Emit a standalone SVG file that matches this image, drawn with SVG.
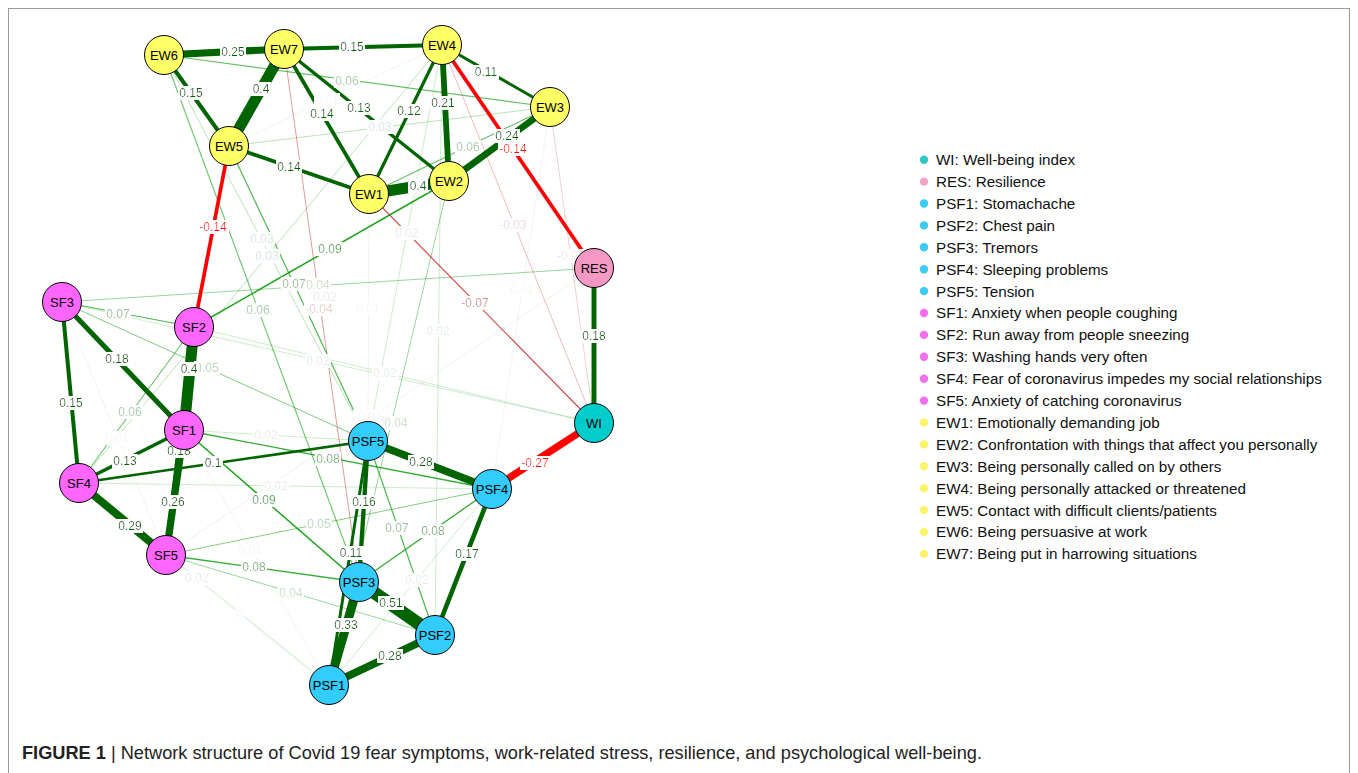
<svg xmlns="http://www.w3.org/2000/svg" width="1358" height="773" viewBox="0 0 1358 773">
<defs>
<filter id="bg" x="-0.04" y="0" width="1.08" height="1"><feFlood flood-color="#ffffff"/><feComposite in="SourceGraphic" operator="over"/></filter>
</defs>
<style>
.n circle{stroke:#000;stroke-width:1}
.n text{font-family:"Liberation Sans",Arial,sans-serif;font-size:13px;text-anchor:middle;fill:#000}
.ew{fill:#ffff66}.sf{fill:#ff66ff}.psf{fill:#33ccff}.wi{fill:#00cccc}.res{fill:#f598c4}
.pg{stroke:#006400}.wg{stroke:#009900}.pr{stroke:#ff0000}.wr{stroke:#bf0000}
#labels text{font-family:"Liberation Sans",Arial,sans-serif;font-size:12px;text-anchor:middle;filter:url(#bg)}
.tg{fill:#006400}.tw{fill:#009900}.tr{fill:#ff0000}.tb{fill:#bf0000}
.leg text{font-family:"Liberation Sans",Arial,sans-serif;font-size:15.2px;fill:#111}
.cap{font-family:"Liberation Sans",Arial,sans-serif;font-size:18.2px;fill:#222}
</style>
<rect x="0" y="0" width="1358" height="773" fill="#ffffff"/>
<rect x="8.5" y="8.5" width="1341" height="800" fill="none" stroke="#9a9a9a" stroke-width="1"/>

<g id="connectors" fill="none">
<line class="wg" stroke-opacity=".08" stroke-width="0.8" x1="166" y1="555" x2="329" y2="685"/>
<line class="wg" stroke-opacity=".1" stroke-width="0.8" x1="229" y1="146" x2="442" y2="45"/>
<line class="wg" stroke-opacity=".1" stroke-width="0.8" x1="62" y1="302" x2="166" y2="555"/>
<line class="wg" stroke-opacity=".1" stroke-width="0.8" x1="184" y1="430" x2="329" y2="685"/>
<line class="wg" stroke-opacity=".1" stroke-width="0.8" x1="550" y1="107" x2="492" y2="489"/>
<line class="wg" stroke-opacity=".1" stroke-width="0.8" x1="369" y1="194" x2="368" y2="441"/>
<line class="wr" stroke-opacity=".1" stroke-width="0.8" x1="166" y1="555" x2="594" y2="268"/>
<line class="wg" stroke-opacity=".22" stroke-width="0.9" x1="184" y1="430" x2="368" y2="441"/>
<line class="wg" stroke-opacity=".22" stroke-width="0.9" x1="79" y1="483" x2="492" y2="489"/>
<line class="wg" stroke-opacity=".22" stroke-width="0.9" x1="79" y1="483" x2="329" y2="685"/>
<line class="wg" stroke-opacity=".22" stroke-width="0.9" x1="62" y1="302" x2="594" y2="423"/>
<line class="wg" stroke-opacity=".22" stroke-width="0.9" x1="194" y1="327" x2="594" y2="423"/>
<line class="wg" stroke-opacity=".22" stroke-width="0.9" x1="442" y1="45" x2="435" y2="635"/>
<line class="wg" stroke-opacity=".22" stroke-width="0.9" x1="442" y1="45" x2="368" y2="441"/>
<line class="wg" stroke-opacity=".22" stroke-width="0.9" x1="492" y1="489" x2="329" y2="685"/>
<line class="wr" stroke-opacity=".22" stroke-width="0.9" x1="550" y1="107" x2="594" y2="423"/>
<line class="wg" stroke-opacity=".3" stroke-width="0.9" x1="229" y1="146" x2="550" y2="107"/>
<line class="wg" stroke-opacity=".3" stroke-width="0.9" x1="164" y1="55" x2="368" y2="441"/>
<line class="wg" stroke-opacity=".3" stroke-width="0.9" x1="442" y1="45" x2="79" y2="483"/>
<line class="wr" stroke-opacity=".3" stroke-width="0.9" x1="442" y1="45" x2="594" y2="423"/>
<line class="wg" stroke-opacity=".4" stroke-width="1" x1="62" y1="302" x2="594" y2="268"/>
<line class="wg" stroke-opacity=".4" stroke-width="1" x1="166" y1="555" x2="435" y2="635"/>
<line class="wg" stroke-opacity=".4" stroke-width="1" x1="449" y1="181" x2="329" y2="685"/>
<line class="wr" stroke-opacity=".4" stroke-width="1" x1="284" y1="49" x2="359" y2="582"/>
<line class="wg" stroke-opacity=".5" stroke-width="1" x1="62" y1="302" x2="368" y2="441"/>
<line class="wg" stroke-opacity=".5" stroke-width="1" x1="166" y1="555" x2="492" y2="489"/>
<line class="wg" stroke-opacity=".6" stroke-width="1.1" x1="164" y1="55" x2="550" y2="107"/>
<line class="wg" stroke-opacity=".6" stroke-width="1.1" x1="369" y1="194" x2="550" y2="107"/>
<line class="wg" stroke-opacity=".6" stroke-width="1.1" x1="79" y1="483" x2="194" y2="327"/>
<line class="wg" stroke-opacity=".6" stroke-width="1.1" x1="164" y1="55" x2="359" y2="582"/>
<line class="wg" stroke-opacity=".7" stroke-width="1.2" x1="62" y1="302" x2="194" y2="327"/>
<line class="wg" stroke-opacity=".7" stroke-width="1.2" x1="229" y1="146" x2="368" y2="441"/>
<line class="wg" stroke-opacity=".7" stroke-width="1.2" x1="368" y1="441" x2="435" y2="635"/>
<line class="wr" stroke-opacity=".7" stroke-width="1.2" x1="369" y1="194" x2="594" y2="423"/>
<line class="wg" stroke-opacity=".8" stroke-width="1.3" x1="184" y1="430" x2="492" y2="489"/>
<line class="wg" stroke-opacity=".8" stroke-width="1.3" x1="166" y1="555" x2="359" y2="582"/>
<line class="wg" stroke-opacity=".8" stroke-width="1.3" x1="492" y1="489" x2="359" y2="582"/>
<line class="wg" stroke-opacity=".9" stroke-width="1.5" x1="194" y1="327" x2="449" y2="181"/>
<line class="wg" stroke-opacity=".9" stroke-width="1.5" x1="184" y1="430" x2="359" y2="582"/>
<line class="pg" stroke-width="2.6" x1="79" y1="483" x2="368" y2="441"/>
<line class="pg" stroke-width="2.9" x1="442" y1="45" x2="550" y2="107"/>
<line class="pg" stroke-width="2.9" x1="368" y1="441" x2="329" y2="685"/>
<line class="pg" stroke-width="3.2" x1="442" y1="45" x2="369" y2="194"/>
<line class="pg" stroke-width="3.5" x1="284" y1="49" x2="449" y2="181"/>
<line class="pg" stroke-width="3.5" x1="184" y1="430" x2="79" y2="483"/>
<line class="pg" stroke-width="3.7" x1="284" y1="49" x2="369" y2="194"/>
<line class="pg" stroke-width="3.7" x1="229" y1="146" x2="369" y2="194"/>
<line class="pr" stroke-width="3.7" x1="442" y1="45" x2="594" y2="268"/>
<line class="pr" stroke-width="3.7" x1="229" y1="146" x2="194" y2="327"/>
<line class="pg" stroke-width="4" x1="284" y1="49" x2="442" y2="45"/>
<line class="pg" stroke-width="4" x1="164" y1="55" x2="229" y2="146"/>
<line class="pg" stroke-width="4" x1="62" y1="302" x2="79" y2="483"/>
<line class="pg" stroke-width="4.3" x1="368" y1="441" x2="359" y2="582"/>
<line class="pg" stroke-width="4.6" x1="492" y1="489" x2="435" y2="635"/>
<line class="pg" stroke-width="4.9" x1="62" y1="302" x2="184" y2="430"/>
<line class="pg" stroke-width="4.9" x1="194" y1="327" x2="166" y2="555"/>
<line class="pg" stroke-width="4.9" x1="594" y1="268" x2="594" y2="423"/>
<line class="pg" stroke-width="5.8" x1="442" y1="45" x2="449" y2="181"/>
<line class="pg" stroke-width="6.6" x1="550" y1="107" x2="449" y2="181"/>
<line class="pg" stroke-width="7.2" x1="164" y1="55" x2="284" y2="49"/>
<line class="pg" stroke-width="7.2" x1="184" y1="430" x2="166" y2="555"/>
<line class="pr" stroke-width="7.4" x1="492" y1="489" x2="594" y2="423"/>
<line class="pg" stroke-width="7.6" x1="368" y1="441" x2="492" y2="489"/>
<line class="pg" stroke-width="7.6" x1="329" y1="685" x2="435" y2="635"/>
<line class="pg" stroke-width="7.9" x1="79" y1="483" x2="166" y2="555"/>
<line class="pg" stroke-width="9" x1="359" y1="582" x2="329" y2="685"/>
<line class="pg" stroke-width="11" x1="284" y1="49" x2="229" y2="146"/>
<line class="pg" stroke-width="11" x1="369" y1="194" x2="449" y2="181"/>
<line class="pg" stroke-width="11" x1="194" y1="327" x2="184" y2="430"/>
<line class="pg" stroke-width="13" x1="359" y1="582" x2="435" y2="635"/>
</g>

<g id="labels">
<text class="tw" fill-opacity=".12" x="240" y="619">0</text>
<text class="tw" fill-opacity=".1" x="327" y="104">0.01</text>
<text class="tw" fill-opacity=".1" x="117" y="442">0.01</text>
<text class="tw" fill-opacity=".1" x="250" y="554">0.01</text>
<text class="tw" fill-opacity=".1" x="522" y="293">0.01</text>
<text class="tw" fill-opacity=".1" x="368" y="312">0.01</text>
<text class="tb" fill-opacity=".1" x="368" y="421">-0.01</text>
<text class="tw" fill-opacity=".22" x="266" y="439">0.02</text>
<text class="tw" fill-opacity=".22" x="276" y="490">0.02</text>
<text class="tw" fill-opacity=".22" x="197" y="582">0.02</text>
<text class="tw" fill-opacity=".22" x="318" y="365">0.02</text>
<text class="tw" fill-opacity=".22" x="385" y="377">0.02</text>
<text class="tw" fill-opacity=".22" x="438" y="335">0.02</text>
<text class="tw" fill-opacity=".22" x="407" y="237">0.02</text>
<text class="tw" fill-opacity=".22" x="417" y="584">0.02</text>
<text class="tw" fill-opacity=".22" x="325" y="301">0.02</text>
<text class="tb" fill-opacity=".22" x="571" y="260">-0.02</text>
<text class="tw" fill-opacity=".3" x="380" y="131">0.03</text>
<text class="tw" fill-opacity=".3" x="262" y="243">0.03</text>
<text class="tw" fill-opacity=".3" x="267" y="260">0.03</text>
<text class="tb" fill-opacity=".3" x="513" y="229">-0.03</text>
<text class="tw" fill-opacity=".4" x="318" y="289">0.04</text>
<text class="tw" fill-opacity=".4" x="291" y="597">0.04</text>
<text class="tw" fill-opacity=".4" x="396" y="427">0.04</text>
<text class="tb" fill-opacity=".4" x="319" y="313">-0.04</text>
<text class="tw" fill-opacity=".5" x="207" y="372">0.05</text>
<text class="tw" fill-opacity=".5" x="319" y="528">0.05</text>
<text class="tw" fill-opacity=".6" x="347" y="85">0.06</text>
<text class="tw" fill-opacity=".6" x="468" y="151">0.06</text>
<text class="tw" fill-opacity=".6" x="130" y="416">0.06</text>
<text class="tw" fill-opacity=".6" x="258" y="314">0.06</text>
<text class="tw" fill-opacity=".7" x="118" y="318">0.07</text>
<text class="tw" fill-opacity=".7" x="294" y="288">0.07</text>
<text class="tw" fill-opacity=".7" x="397" y="532">0.07</text>
<text class="tb" fill-opacity=".7" x="475" y="307">-0.07</text>
<text class="tw" fill-opacity=".8" x="328" y="463">0.08</text>
<text class="tw" fill-opacity=".8" x="254" y="571">0.08</text>
<text class="tw" fill-opacity=".8" x="433" y="535">0.08</text>
<text class="tw" fill-opacity=".9" x="330" y="253">0.09</text>
<text class="tw" fill-opacity=".9" x="264" y="504">0.09</text>
<text class="tg" x="213" y="467">0.1</text>
<text class="tg" x="486" y="76">0.11</text>
<text class="tg" x="351" y="557">0.11</text>
<text class="tg" x="409" y="115">0.12</text>
<text class="tg" x="359" y="112">0.13</text>
<text class="tg" x="125" y="465">0.13</text>
<text class="tg" x="322" y="118">0.14</text>
<text class="tg" x="289" y="171">0.14</text>
<text class="tr" x="513" y="153">-0.14</text>
<text class="tr" x="213" y="231">-0.14</text>
<text class="tg" x="352" y="51">0.15</text>
<text class="tg" x="191" y="97">0.15</text>
<text class="tg" x="71" y="407">0.15</text>
<text class="tg" x="364" y="506">0.16</text>
<text class="tg" x="467" y="558">0.17</text>
<text class="tg" x="117" y="363">0.18</text>
<text class="tg" x="179" y="455">0.18</text>
<text class="tg" x="594" y="340">0.18</text>
<text class="tg" x="443" y="107">0.21</text>
<text class="tg" x="507" y="140">0.24</text>
<text class="tg" x="233" y="56">0.25</text>
<text class="tg" x="173" y="506">0.26</text>
<text class="tr" x="535" y="467">-0.27</text>
<text class="tg" x="421" y="466">0.28</text>
<text class="tg" x="390" y="660">0.28</text>
<text class="tg" x="130" y="530">0.29</text>
<text class="tg" x="346" y="629">0.33</text>
<text class="tg" x="261" y="93">0.4</text>
<text class="tg" x="418" y="190">0.4</text>
<text class="tg" x="189" y="373">0.4</text>
<text class="tg" x="391" y="607">0.51</text>
</g>

<g class="n">
<g id="EW6"><circle class="ew" cx="164" cy="55" r="19.5"/><text x="164" y="60">EW6</text></g>
<g id="EW7"><circle class="ew" cx="284" cy="49" r="19.5"/><text x="284" y="54">EW7</text></g>
<g id="EW4"><circle class="ew" cx="442" cy="45" r="19.5"/><text x="442" y="50">EW4</text></g>
<g id="EW3"><circle class="ew" cx="550" cy="107" r="19.5"/><text x="550" y="112">EW3</text></g>
<g id="EW5"><circle class="ew" cx="229" cy="146" r="19.5"/><text x="229" y="151">EW5</text></g>
<g id="EW2"><circle class="ew" cx="449" cy="181" r="19.5"/><text x="449" y="186">EW2</text></g>
<g id="EW1"><circle class="ew" cx="369" cy="194" r="19.5"/><text x="369" y="199">EW1</text></g>
<g id="SF3"><circle class="sf" cx="62" cy="302" r="19.5"/><text x="62" y="307">SF3</text></g>
<g id="SF2"><circle class="sf" cx="194" cy="327" r="19.5"/><text x="194" y="332">SF2</text></g>
<g id="SF1"><circle class="sf" cx="184" cy="430" r="19.5"/><text x="184" y="435">SF1</text></g>
<g id="SF4"><circle class="sf" cx="79" cy="483" r="19.5"/><text x="79" y="488">SF4</text></g>
<g id="SF5"><circle class="sf" cx="166" cy="555" r="19.5"/><text x="166" y="560">SF5</text></g>
<g id="RES"><circle class="res" cx="594" cy="268" r="19.5"/><text x="594" y="273">RES</text></g>
<g id="WI"><circle class="wi" cx="594" cy="423" r="19.5"/><text x="594" y="428">WI</text></g>
<g id="PSF5"><circle class="psf" cx="368" cy="441" r="19.5"/><text x="368" y="446">PSF5</text></g>
<g id="PSF4"><circle class="psf" cx="492" cy="489" r="19.5"/><text x="492" y="494">PSF4</text></g>
<g id="PSF3"><circle class="psf" cx="359" cy="582" r="19.5"/><text x="359" y="587">PSF3</text></g>
<g id="PSF2"><circle class="psf" cx="435" cy="635" r="19.5"/><text x="435" y="640">PSF2</text></g>
<g id="PSF1"><circle class="psf" cx="329" cy="685" r="19.5"/><text x="329" y="690">PSF1</text></g>
</g>

<g id="legend" class="leg">
<circle cx="924" cy="159.7" r="4.2" fill="#2ec7c2"/><text x="936" y="165">WI: Well-being index</text>
<circle cx="924" cy="181.6" r="4.2" fill="#f4a3c8"/><text x="936" y="187">RES: Resilience</text>
<circle cx="924" cy="203.5" r="4.2" fill="#3ccbf5"/><text x="936" y="209">PSF1: Stomachache</text>
<circle cx="924" cy="225.4" r="4.2" fill="#3ccbf5"/><text x="936" y="230.8">PSF2: Chest pain</text>
<circle cx="924" cy="247.3" r="4.2" fill="#3ccbf5"/><text x="936" y="252.7">PSF3: Tremors</text>
<circle cx="924" cy="269.2" r="4.2" fill="#3ccbf5"/><text x="936" y="274.6">PSF4: Sleeping problems</text>
<circle cx="924" cy="291.1" r="4.2" fill="#3ccbf5"/><text x="936" y="296.5">PSF5: Tension</text>
<circle cx="924" cy="313" r="4.2" fill="#f56ef0"/><text x="936" y="318.4">SF1: Anxiety when people coughing</text>
<circle cx="924" cy="334.9" r="4.2" fill="#f56ef0"/><text x="936" y="340.3">SF2: Run away from people sneezing</text>
<circle cx="924" cy="356.8" r="4.2" fill="#f56ef0"/><text x="936" y="362.2">SF3: Washing hands very often</text>
<circle cx="924" cy="378.7" r="4.2" fill="#f56ef0"/><text x="936" y="384.1">SF4: Fear of coronavirus impedes my social relationships</text>
<circle cx="924" cy="400.6" r="4.2" fill="#f56ef0"/><text x="936" y="406">SF5: Anxiety of catching coronavirus</text>
<circle cx="924" cy="422.5" r="4.2" fill="#f9f46a"/><text x="936" y="427.9">EW1: Emotionally demanding job</text>
<circle cx="924" cy="444.4" r="4.2" fill="#f9f46a"/><text x="936" y="449.8">EW2: Confrontation with things that affect you personally</text>
<circle cx="924" cy="466.3" r="4.2" fill="#f9f46a"/><text x="936" y="471.7">EW3: Being personally called on by others</text>
<circle cx="924" cy="488.2" r="4.2" fill="#f9f46a"/><text x="936" y="493.6">EW4: Being personally attacked or threatened</text>
<circle cx="924" cy="510.1" r="4.2" fill="#f9f46a"/><text x="936" y="515.5">EW5: Contact with difficult clients/patients</text>
<circle cx="924" cy="532" r="4.2" fill="#f9f46a"/><text x="936" y="537.4">EW6: Being persuasive at work</text>
<circle cx="924" cy="553.9" r="4.2" fill="#f9f46a"/><text x="936" y="559.3">EW7: Being put in harrowing situations</text>
</g>

<text class="cap" x="22" y="759"><tspan font-weight="bold">FIGURE 1</tspan> | Network structure of Covid 19 fear symptoms, work-related stress, resilience, and psychological well-being.</text>
</svg>
